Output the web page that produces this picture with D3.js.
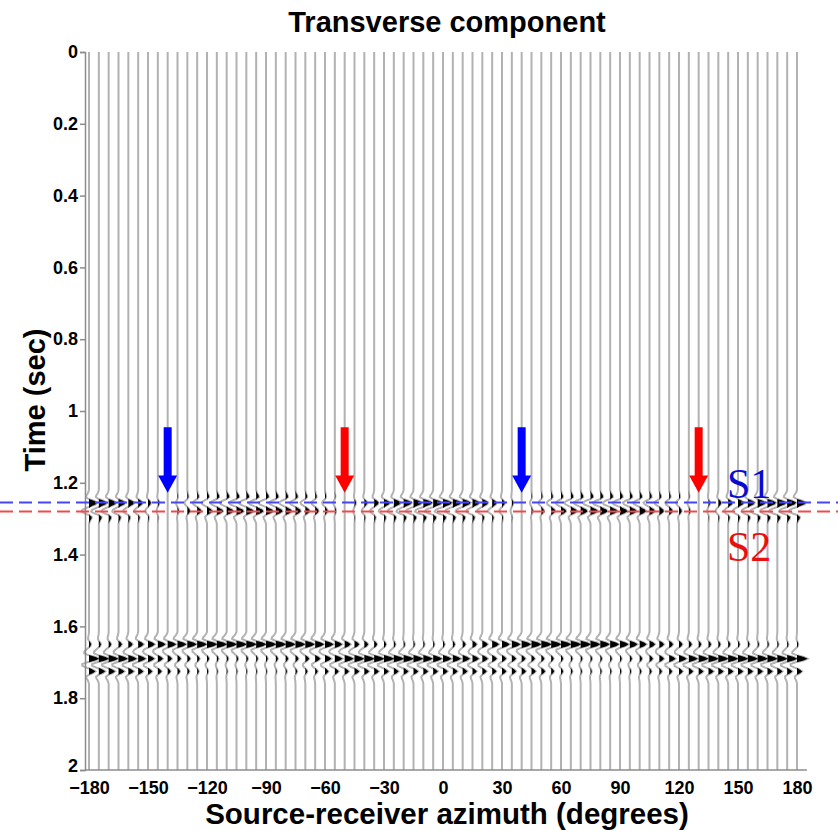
<!DOCTYPE html>
<html>
<head>
<meta charset="utf-8">
<script src="https://cdn.jsdelivr.net/npm/d3@7"></script>
<style>
  body { margin: 0; background: #fff; }
  text { font-family: "Liberation Sans", Arial, sans-serif; font-weight: bold; }
</style>
</head>
<body>
<svg id="chart" width="838" height="831"></svg>
<script>
/* trace azimuths (degrees) */
const azimuths = [
  -180,-175,-170,-165,-160,-155,-150,-145,-140,-135,-130,-125,
  -120,-115,-110,-105,-100,-95,-90,-85,-80,-75,-70,-65,
  -60,-55,-50,-45,-40,-35,-30,-25,-20,-15,-10,-5,
  0,5,10,15,20,25,30,35,40,45,50,55,
  60,65,70,75,80,85,90,95,100,105,110,115,
  120,125,130,135,140,145,150,155,160,165,170,175,
  180
];

/* arrival times (sec) */
const s1Time = 1.255;
const s2Time = 1.28;
const lateTimes = [1.65, 1.69, 1.725];

/* amplitudes per trace */
const s1Amp = [
  .8,.8,.75,.7,.6,.45,.3,.15,0,-.15,-.3,-.45,
  -.55,-.65,-.7,-.75,-.75,-.75,-.75,-.7,-.65,-.6,-.5,-.4,
  -.3,-.15,0,.15,.3,.45,.6,.7,.8,.85,.9,.9,
  .9,.85,.8,.7,.6,.45,.3,.15,0,-.15,-.3,-.45,
  -.55,-.65,-.7,-.75,-.75,-.75,-.75,-.7,-.65,-.6,-.5,-.4,
  -.3,-.15,0,.15,.3,.45,.6,.7,.8,.85,.9,.9,
  .9
];
const s2Amp = [
  -.75,-.75,-.7,-.6,-.5,-.4,-.25,-.12,0,.12,.25,.4,
  .5,.6,.65,.7,.7,.7,.7,.65,.6,.5,.42,.32,
  .25,.12,0,-.12,-.25,-.4,-.5,-.6,-.7,-.75,-.8,-.8,
  -.8,-.75,-.7,-.6,-.5,-.4,-.25,-.12,0,.12,.25,.4,
  .5,.6,.65,.7,.7,.7,.7,.65,.6,.5,.42,.32,
  .25,.12,0,-.12,-.25,-.4,-.5,-.6,-.7,-.75,-.8,-.8,
  -.8
];
const p1Amp = [
  .25,.25,.3,.4,.5,.65,.8,.9,1,1.05,1.1,1.15,
  1.2,1.2,1.2,1.2,1.2,1.2,1.2,1.2,1.15,1.15,1.1,1.05,
  1,.85,.7,.55,.45,.35,.25,.2,.15,.15,.15,.15,
  .2,.25,.35,.5,.65,.8,.9,1,1.1,1.15,1.2,1.2,
  1.2,1.2,1.2,1.15,1.1,1.05,1,.9,.8,.65,.55,.45,
  .4,.35,.3,.3,.25,.25,.2,.2,.15,.15,.15,.15,
  .15
];
const p2Amp = [
  1.2,1.2,1.15,1.1,1,.9,.75,.6,.5,.4,.35,.3,
  .25,.2,.2,.2,.2,.2,.2,.25,.3,.35,.45,.6,
  .75,.9,1.05,1.15,1.2,1.2,1.2,1.2,1.2,1.15,1.1,1.05,
  1,.95,.85,.75,.65,.55,.5,.5,.45,.4,.35,.3,
  .25,.2,.2,.2,.2,.2,.2,.25,.3,.4,.55,.75,
  .9,1.05,1.15,1.2,1.2,1.2,1.2,1.2,1.2,1.2,1.2,1.2,
  1.25
];
const p3Amp = [
  .75,.75,.75,.7,.65,.6,.5,.45,.35,.3,.25,.2,
  .15,.1,.1,.1,.1,.1,.1,.1,.15,.2,.25,.3,
  .4,.45,.5,.55,.55,.55,.55,.55,.55,.55,.55,.55,
  .55,.55,.55,.5,.5,.5,.5,.5,.5,.5,.45,.35,
  .25,.2,.15,.15,.15,.15,.15,.15,.2,.25,.3,.35,
  .45,.5,.55,.6,.6,.6,.6,.6,.6,.6,.6,.6,
  .6
];

/* source wavelet, sampled every 5 ms */
const wavelet = [-.07,-.19,-.38,-.43,-.05,.64,1,.64,-.05,-.43,-.38,-.19,-.07];
const dt = 0.005;

const timeTicks = [0, 0.2, 0.4, 0.6, 0.8, 1, 1.2, 1.4, 1.6, 1.8, 2];
const azTicks = [-180, -150, -120, -90, -60, -30, 0, 30, 60, 90, 120, 150, 180];

/* nodal azimuths marked by arrows */
const s1Nodes = [-140, 40];
const s2Nodes = [-50, 130];

const svg = d3.select('#chart');
const x = d3.scaleLinear().domain([-180, 180]).range([89, 797]);
const y = d3.scaleLinear().domain([0, 2]).range([52, 770]);
const gain = 8.5;

const arrivals = [
  { t: s1Time, amp: s1Amp },
  { t: s2Time, amp: s2Amp },
  { t: lateTimes[0], amp: p1Amp },
  { t: lateTimes[1], amp: p2Amp },
  { t: lateTimes[2], amp: p3Amp }
];

const nSamp = Math.round(2 / dt) + 1;
const half = (wavelet.length - 1) / 2;

let traces = azimuths.map(function (az, j) {
  let vals = new Array(nSamp).fill(0);
  arrivals.forEach(function (a) {
    const c = Math.round(a.t / dt);
    wavelet.forEach(function (w, m) {
      vals[c + m - half] += a.amp[j] * w;
    });
  });
  return { az: az, vals: vals };
});

/* traces */
const traceG = svg.append('g');
traces.forEach(function (tr) {
  const x0 = x(tr.az);
  const line = d3.line()
    .x(v => x0 + gain * v)
    .y((v, i) => y(i * dt));
  const area = d3.area()
    .y((v, i) => y(i * dt))
    .x0(x0)
    .x1(v => x0 + gain * Math.max(0, v));

  traceG.append('path')
    .attr('d', line(tr.vals))
    .attr('fill', 'none')
    .attr('stroke', '#b2b2b2')
    .attr('stroke-width', 2);

  traceG.append('path')
    .attr('d', area(tr.vals))
    .attr('fill', '#000')
    .attr('stroke', 'none');
});

/* axes */
const yAxis = svg.append('g')
  .attr('transform', 'translate(85,0)')
  .call(d3.axisLeft(y)
    .tickValues(timeTicks)
    .tickFormat(d3.format('~g'))
    .tickSizeOuter(0)
    .tickSize(5)
    .tickPadding(2));
yAxis.select('.domain').attr('stroke', '#8c8c8c').attr('stroke-width', 1.5);
yAxis.selectAll('.tick line').attr('stroke', '#8c8c8c').attr('stroke-width', 1.5);
yAxis.selectAll('.tick text')
  .attr('fill', '#000')
  .style('font-size', '18px');
yAxis.selectAll('.tick text')
  .filter(d => d === 2)
  .attr('dy', '0.1em');

const xAxis = svg.append('g')
  .attr('transform', 'translate(0,771)')
  .call(d3.axisBottom(x)
    .tickValues(azTicks)
    .tickSize(0)
    .tickPadding(10));
xAxis.select('.domain').remove();
xAxis.selectAll('.tick text')
  .attr('fill', '#000')
  .style('font-size', '18px');
svg.append('line')
  .attr('x1', 85).attr('x2', x(185))
  .attr('y1', y(2)).attr('y2', y(2))
  .attr('stroke', '#8c8c8c')
  .attr('stroke-width', 1.5);

/* dashed reference lines for S1 and S2 */
svg.append('line')
  .attr('x1', 0).attr('x2', 838)
  .attr('y1', y(s1Time)).attr('y2', y(s1Time))
  .attr('stroke', '#4646f0')
  .attr('stroke-width', 2)
  .attr('stroke-dasharray', '13,6');
svg.append('line')
  .attr('x1', 0).attr('x2', 838)
  .attr('y1', y(s2Time)).attr('y2', y(s2Time))
  .attr('stroke', '#f04a4a')
  .attr('stroke-width', 2)
  .attr('stroke-dasharray', '13,6');

/* arrows */
function arrowPath(az) {
  const cx = x(az);
  const top = y(1.045), neck = y(1.18), tip = y(1.228);
  return `M${cx - 4},${top} L${cx + 4},${top} L${cx + 4},${neck} L${cx + 9.5},${neck}
    L${cx},${tip} L${cx - 9.5},${neck} L${cx - 4},${neck} Z`;
}
svg.selectAll('.arrow-s1')
  .data(s1Nodes)
  .enter().append('path')
  .attr('class', 'arrow-s1')
  .attr('d', arrowPath)
  .attr('fill', '#0000ff');
svg.selectAll('.arrow-s2')
  .data(s2Nodes)
  .enter().append('path')
  .attr('class', 'arrow-s2')
  .attr('d', arrowPath)
  .attr('fill', '#ff0000');

/* S1 / S2 labels */
svg.append('text')
  .attr('x', 727).attr('y', 498)
  .style('font-family', '"Liberation Serif", "Times New Roman", serif')
  .style('font-weight', 'normal')
  .style('font-size', '42px')
  .attr('fill', '#0a0ad2')
  .text('S1');
svg.append('text')
  .attr('x', 727).attr('y', 561)
  .style('font-family', '"Liberation Serif", "Times New Roman", serif')
  .style('font-weight', 'normal')
  .style('font-size', '42px')
  .attr('fill', '#e81010')
  .text('S2');

/* titles */
svg.append('text')
  .attr('x', 447).attr('y', 32)
  .attr('text-anchor', 'middle')
  .style('font-size', '29px')
  .text('Transverse component');
svg.append('text')
  .attr('x', 447).attr('y', 824)
  .attr('text-anchor', 'middle')
  .style('font-size', '29.5px')
  .text('Source-receiver azimuth (degrees)');
svg.append('text')
  .attr('transform', 'translate(45,400) rotate(-90)')
  .attr('text-anchor', 'middle')
  .style('font-size', '29px')
  .text('Time (sec)');
</script>
</body>
</html>
